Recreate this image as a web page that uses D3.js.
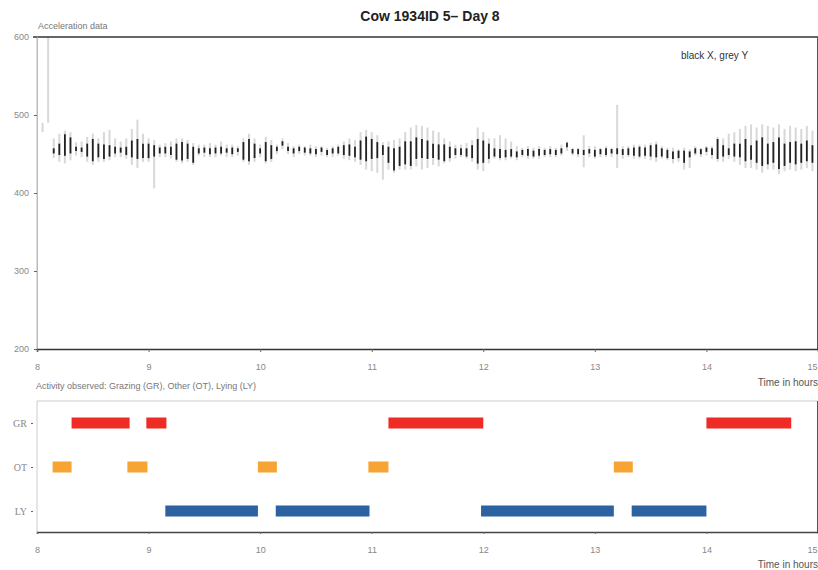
<!DOCTYPE html>
<html>
<head>
<meta charset="utf-8">
<script src="https://cdn.jsdelivr.net/npm/d3@7"></script>
<style>
    body { margin: 0; background: #fff; }
    svg { display: block; font-family: "Liberation Sans", Arial, sans-serif; }
</style>
</head>
<body>
<div id="container"></div>
<script>
"use strict"

// time of each acceleration bin (hours)
const accTime = [
    8.05, 8.10, 8.15, 8.20, 8.25, 8.30, 8.35, 8.40, 8.45, 8.50, 8.55, 8.60, 8.65, 8.70, 8.75, 8.80, 8.85, 8.90, 8.95,
    9.00, 9.05, 9.10, 9.15, 9.20, 9.25, 9.30, 9.35, 9.40, 9.45, 9.50, 9.55, 9.60, 9.65, 9.70, 9.75, 9.80, 9.85, 9.90, 9.95,
    10.00, 10.05, 10.10, 10.15, 10.20, 10.25, 10.30, 10.35, 10.40, 10.45, 10.50, 10.55, 10.60, 10.65, 10.70, 10.75, 10.80, 10.85, 10.90, 10.95,
    11.00, 11.05, 11.10, 11.15, 11.20, 11.25, 11.30, 11.35, 11.40, 11.45, 11.50, 11.55, 11.60, 11.65, 11.70, 11.75, 11.80, 11.85, 11.90, 11.95,
    12.00, 12.05, 12.10, 12.15, 12.20, 12.25, 12.30, 12.35, 12.40, 12.45, 12.50, 12.55, 12.60, 12.65, 12.70, 12.75, 12.80, 12.85, 12.90, 12.95,
    13.00, 13.05, 13.10, 13.15, 13.20, 13.25, 13.30, 13.35, 13.40, 13.45, 13.50, 13.55, 13.60, 13.65, 13.70, 13.75, 13.80, 13.85, 13.90, 13.95,
    14.00, 14.05, 14.10, 14.15, 14.20, 14.25, 14.30, 14.35, 14.40, 14.45, 14.50, 14.55, 14.60, 14.65, 14.70, 14.75, 14.80, 14.85, 14.90, 14.95
];

// black X: min / max per bin (null = nothing drawn)
const accXLow = [
    null, null, 452, 450, 449, 452, 455, 454, 448, 442, 447, 445, 448, 452, 453, 450, 447, 445, 446,
    446, 448, 452, 452, 450, 444, 443, 445, 440, 452, 453, 451, 452, 452, 453, 451, 454, 444, 442, 446,
    452, 442, 445, 455, 462, 455, 452, 455, 453, 452, 451, 454, 450, 452, 452, 450, 449, 447, 444, 442,
    445, 446, 450, 440, 430, 436, 438, 436, 445, 446, 445, 446, 444, 442, 446, 450, 450, 448, 446, 439,
    440, 445, 448, 446, 447, 448, 447, 450, 449, 448, 449, 450, 451, 450, 452, 460, 452, 451, 450, 452,
    448, 451, 450, 452, 451, 450, 450, 449, 448, 449, 448, 447, 448, 446, 445, 446, 440, 447, 452, 451,
    454, 450, 445, 448, 450, 448, 447, 442, 444, 440, 436, 438, 440, 432, 436, 440, 438, 440, 442, 440
];
const accXHigh = [
    null, null, 456, 462, 474, 470, 458, 457, 462, 468, 462, 461, 460, 458, 457, 458, 466, 468, 462,
    462, 460, 457, 458, 458, 462, 464, 462, 458, 456, 457, 456, 457, 458, 456, 457, 456, 464, 468, 462,
    456, 464, 460, 458, 465, 458, 456, 458, 457, 456, 455, 457, 454, 456, 458, 460, 461, 458, 466, 471,
    468, 464, 460, 458, 456, 458, 465, 465, 470, 468, 466, 462, 461, 461, 458, 456, 456, 456, 460, 468,
    466, 462, 456, 455, 454, 455, 452, 454, 455, 453, 455, 454, 455, 454, 456, 463, 455, 455, 454, 455,
    454, 455, 456, 455, 456, 455, 456, 457, 458, 457, 460, 461, 456, 454, 452, 453, 453, 452, 456, 455,
    457, 456, 468, 460, 456, 462, 462, 468, 460, 466, 470, 462, 464, 470, 462, 464, 465, 462, 466, 460
];

// grey Y: min / max per bin
const accYLow = [
    478, 490, 445, 440, 438, 442, 448, 446, 440, 436, 440, 440, 442, 446, 446, 444, 436, 432, 440,
    440, 406, 446, 446, 444, 440, 438, 440, 436, 448, 446, 446, 446, 448, 446, 446, 448, 440, 436, 440,
    446, 438, 440, 450, 456, 450, 446, 450, 448, 448, 446, 448, 446, 446, 448, 444, 442, 440, 436, 430,
    428, 426, 417, 430, 426, 430, 430, 430, 434, 430, 432, 436, 434, 438, 440, 444, 446, 444, 440, 430,
    428, 438, 444, 442, 442, 444, 442, 446, 444, 444, 444, 446, 446, 446, 448, 454, 448, 446, 433, 446,
    444, 446, 446, 446, 432, 444, 446, 444, 444, 444, 442, 440, 444, 442, 438, 440, 430, 432, 448, 446,
    448, 444, 440, 440, 444, 440, 436, 432, 432, 430, 426, 430, 430, 424, 428, 430, 428, 430, 432, 428
];
const accYHigh = [
    490, 600, 470, 476, 480, 478, 465, 466, 472, 476, 470, 478, 481, 470, 466, 470, 482, 494, 476,
    470, 468, 462, 464, 466, 470, 470, 468, 464, 462, 462, 464, 462, 466, 462, 462, 460, 470, 476, 470,
    462, 472, 468, 462, 470, 464, 460, 462, 460, 462, 460, 460, 458, 460, 462, 466, 470, 468, 478, 481,
    478, 474, 465, 466, 468, 470, 478, 484, 487, 486, 484, 480, 478, 470, 466, 462, 462, 464, 468, 484,
    478, 470, 470, 474, 470, 466, 460, 458, 460, 458, 460, 458, 460, 458, 462, 466, 458, 458, 474, 460,
    460, 458, 460, 458, 513, 460, 460, 462, 462, 462, 464, 466, 460, 458, 458, 456, 458, 456, 460, 458,
    460, 460, 472, 470, 476, 478, 482, 486, 488, 484, 488, 486, 484, 488, 482, 486, 484, 482, 486, 480
];

// observed activities
const activities = ["GR", "OT", "LY"];
const activityColors = ["#ee2b25", "#f6a535", "#2c62a0"];
const boutActivity = ["GR", "GR", "GR", "GR", "OT", "OT", "OT", "OT", "OT", "LY", "LY", "LY", "LY"];
const boutStart = [8.31, 8.98, 11.15, 14.00, 8.14, 8.81, 9.98, 10.97, 13.17, 9.15, 10.14, 11.98, 13.33];
const boutEnd = [8.83, 9.16, 12.00, 14.76, 8.31, 8.99, 10.15, 11.15, 13.34, 9.98, 10.98, 13.17, 14.00];

const hourTicks = [8, 9, 10, 11, 12, 13, 14, 15];
const accTicks = [200, 300, 400, 500, 600];

const width = 818;
const height = 570;
const left = 37;
const right = 818;
const accTop = 37;
const accBottom = 349;
const actTop = 401;
const actBottom = 532;

let svg;
let xScale;
let accScale;
let actScale;


function Main()
{
    svg = d3.select("#container")
        .append("svg")
        .attr("width", width)
        .attr("height", height);

    xScale = d3.scaleLinear().domain([8, 15]).range([left, right]);
    accScale = d3.scaleLinear().domain([200, 600]).range([accBottom, accTop]);
    actScale = d3.scalePoint().domain(activities).range([423, 511]);

    DrawTitles();
    DrawAcceleration();
    DrawActivity();
};


function DrawTitles()
{
    svg.append("text")
        .attr("x", 430)
        .attr("y", 21)
        .attr("text-anchor", "middle")
        .attr("font-size", 14)
        .attr("font-weight", "bold")
        .attr("fill", "#222")
        .text("Cow 1934ID 5\u2013 Day 8");

    svg.append("text")
        .attr("x", 38)
        .attr("y", 29)
        .attr("font-size", 9)
        .attr("fill", "#777")
        .text("Acceleration data");

    svg.append("text")
        .attr("x", 681)
        .attr("y", 59)
        .attr("font-size", 10)
        .attr("fill", "#333")
        .text("black X, grey Y");

    svg.append("text")
        .attr("x", 36)
        .attr("y", 389)
        .attr("font-size", 9)
        .attr("fill", "#777")
        .text("Activity observed: Grazing (GR), Other (OT), Lying (LY)");

    [386, 568].forEach(y => {
        svg.append("text")
            .attr("x", 818)
            .attr("y", y)
            .attr("text-anchor", "end")
            .attr("font-size", 10)
            .attr("fill", "#555")
            .text("Time in hours");
    });
};


function DrawAcceleration()
{
    const bins = accTime.map((t, i) => ({
        t: t,
        xLo: accXLow[i],
        xHi: accXHigh[i],
        yLo: accYLow[i],
        yHi: accYHigh[i]
    }));

    // grey Y first, behind
    svg.append("g")
        .selectAll("line")
        .data(bins.filter(d => d.yLo != null))
        .enter()
        .append("line")
        .attr("x1", d => xScale(d.t))
        .attr("x2", d => xScale(d.t))
        .attr("y1", d => accScale(d.yLo))
        .attr("y2", d => accScale(d.yHi))
        .attr("stroke", "#cfcfcf")
        .attr("stroke-width", 2)
        .attr("opacity", 0.8);

    // black X
    svg.append("g")
        .selectAll("line")
        .data(bins.filter(d => d.xLo != null))
        .enter()
        .append("line")
        .attr("x1", d => xScale(d.t))
        .attr("x2", d => xScale(d.t))
        .attr("y1", d => accScale(d.xLo) + 1)
        .attr("y2", d => accScale(d.xHi) - 1)
        .attr("stroke", "#222")
        .attr("stroke-width", 1.8);

    // frame
    svg.append("line")
        .attr("x1", left - 4).attr("x2", right)
        .attr("y1", accTop).attr("y2", accTop)
        .attr("stroke", "#333").attr("stroke-width", 1.5);
    svg.append("line")
        .attr("x1", right - 0.5).attr("x2", right - 0.5)
        .attr("y1", accTop).attr("y2", accBottom)
        .attr("stroke", "#555");
    svg.append("line")
        .attr("x1", left).attr("x2", left)
        .attr("y1", accTop).attr("y2", accBottom)
        .attr("stroke", "#bbb");

    const yAxis = svg.append("g")
        .attr("transform", `translate(${left},0)`)
        .call(d3.axisLeft(accScale).tickValues(accTicks).tickSize(3).tickPadding(5));
    StyleAxis(yAxis);

    const xAxis = svg.append("g")
        .attr("transform", `translate(0,${accBottom})`)
        .call(d3.axisBottom(xScale).tickValues(hourTicks).tickFormat(d3.format("d")).tickSize(3).tickPadding(12));
    StyleAxis(xAxis);
    xAxis.select(".domain").attr("stroke", "#333").attr("stroke-width", 1.5);
};


function DrawActivity()
{
    // frame
    svg.append("line")
        .attr("x1", left).attr("x2", right)
        .attr("y1", actTop).attr("y2", actTop)
        .attr("stroke", "#ccc");
    svg.append("line")
        .attr("x1", left).attr("x2", left)
        .attr("y1", actTop).attr("y2", actBottom)
        .attr("stroke", "#ccc");
    svg.append("line")
        .attr("x1", right - 0.5).attr("x2", right - 0.5)
        .attr("y1", actTop).attr("y2", actBottom)
        .attr("stroke", "#555");

    const bouts = boutActivity.map((a, i) => ({ a: a, start: boutStart[i], end: boutEnd[i] }));
    const colorScale = d3.scaleOrdinal().domain(activities).range(activityColors);

    svg.append("g")
        .selectAll("rect")
        .data(bouts)
        .enter()
        .append("rect")
        .attr("x", d => xScale(d.start))
        .attr("y", d => actScale(d.a) - 5.5)
        .attr("width", d => xScale(d.end) - xScale(d.start))
        .attr("height", 11)
        .attr("fill", d => colorScale(d.a));

    const yAxis = svg.append("g")
        .attr("transform", `translate(${left - 4},0)`)
        .call(d3.axisLeft(actScale).tickSize(2).tickPadding(4));
    StyleAxis(yAxis);
    yAxis.select(".domain").remove();
    yAxis.selectAll("text").attr("font-family", "'Liberation Serif', serif").attr("font-size", 10);

    const xAxis = svg.append("g")
        .attr("transform", `translate(0,${actBottom})`)
        .call(d3.axisBottom(xScale).tickValues(hourTicks).tickFormat(d3.format("d")).tickSize(2).tickPadding(13));
    StyleAxis(xAxis);
    xAxis.select(".domain").attr("stroke", "#444").attr("stroke-width", 1.5);
};


function StyleAxis(axis)
{
    axis.select(".domain").attr("stroke", "#bbb");
    axis.selectAll(".tick line").attr("stroke", "#666");
    axis.selectAll("text")
        .attr("font-family", "'Liberation Sans', Arial, sans-serif")
        .attr("font-size", 9)
        .attr("fill", "#888");
    // last hour label sits on the right edge, keep it inside
    axis.selectAll(".tick text")
        .filter(d => d === 15)
        .attr("text-anchor", "end")
        .attr("dx", -1);
};


Main();
</script>
</body>
</html>
